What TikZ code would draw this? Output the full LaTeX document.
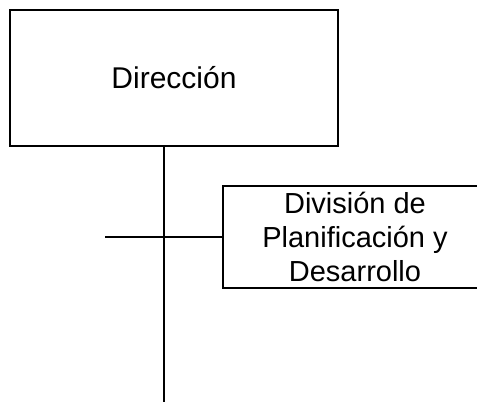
\documentclass[tikz,border=0pt]{standalone}
\usepackage{fontspec}
\setmainfont{Liberation Sans}
\begin{document}
\begin{tikzpicture}[x=1pt,y=1pt,
  orgbox/.style={draw=black, line width=1.5pt, rectangle, inner sep=0pt, fill=white, align=center},
  link/.style={draw=black, line width=1.5pt}]
\useasboundingbox (0,0) rectangle (477,402);
\clip (0,0) rectangle (477,402);
\node[orgbox, minimum width=328pt, minimum height=136pt, font=\fontsize{30}{34}\selectfont] (dir) at (174,324) {Dirección};
\node[orgbox, minimum width=264pt, minimum height=102pt, font=\fontsize{29}{34}\selectfont] (div) at (355,165) {División de\\Planificación y\\Desarrollo};
\coordinate (bot) at (164,0);
\coordinate (hl) at (105,165);
\draw[link] (dir.south -| bot) -- (bot);
\draw[link] (hl) -- (div.west);
\end{tikzpicture}
\end{document}
